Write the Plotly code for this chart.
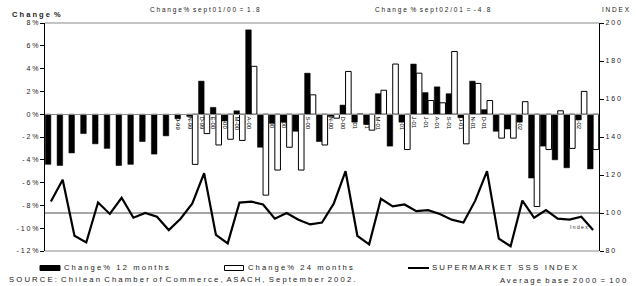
import plotly.graph_objects as go

# ---------------- data ----------------
months = ["N-98", "D-98",
          "E-99", "F-99", "M-99", "A-99", "M-99", "J-99", "J-99", "A-99", "S-99", "O-99", "N-99", "D-99",
          "E-00", "F-00", "M-00", "A-00", "M-00", "J-00", "J-00", "A-00", "S-00", "O-00", "N-00", "D-00",
          "E-01", "F-01", "M-01", "A-01", "M-01", "J-01", "J-01", "A-01", "S-01", "O-01", "N-01", "D-01",
          "E-02", "F-02", "M-02", "A-02", "M-02", "J-02", "J-02", "A-02", "S-02"]

change12 = [-4.4, -4.5, -3.4, -1.7, -2.6, -3.0, -4.5, -4.4, -2.4, -3.5, -1.9, -0.4, -0.2, 2.9,
            0.6, -0.6, 0.3, 7.4, -2.9, -0.8, -0.7, -1.5, 3.6, -2.4, -0.2, 0.8,
            -0.7, -0.9, 1.8, -2.8, -0.7, 4.4, 1.9, 2.4, 1.8, -0.3, 2.9, 0.4,
            -1.5, -1.3, -0.7, -5.6, -2.8, -4.0, -4.7, -0.5, -4.8]

change24 = [None, None, None, None, None, None, None, None, None, None, None, None, -4.4, -1.7,
            -2.7, -2.2, -2.3, 4.2, -7.1, -4.9, -2.9, -4.9, 1.7, -2.7, -0.35, 3.75,
            0.0, -1.4, 2.1, 4.4, -3.1, 3.6, 1.2, 1.0, 5.5, -2.6, 2.7, 1.2,
            -2.1, -2.1, 1.1, -8.1, -3.1, 0.3, -3.0, 2.0, -3.1]

sss_index = [106, 117.5, 88, 84.5, 105.5, 99.5, 108, 97.5, 100, 98, 91, 97, 105, 121,
             88.5, 84, 105.5, 106, 104.5, 97, 100, 96.5, 94, 95, 105, 122,
             88, 83.5, 107.5, 103.5, 104.5, 101, 101.5, 99.5, 96.5, 95, 106.5, 122,
             86.5, 82.5, 106.5, 97.5, 101.5, 97, 96.5, 98, 91]

left_ticks = [8, 6, 4, 2, 0, -2, -4, -6, -8, -10, -12]
left_tick_labels = ["8 %", "6 %", "4 %", "2 %", "0 %", "- 2 %", "- 4 %", "- 6 %", "- 8 %", "- 1 0 %", "- 1 2 %"]
right_ticks = [200, 180, 160, 140, 120, 100, 80]
right_tick_labels = ["2 0 0", "1 8 0", "1 6 0", "1 4 0", "1 2 0", "1 0 0", "8 0"]
base_level = 100

# ---------------- layout helpers ----------------
L, R, T, B = 45, 599, 23, 251
W, H = 636, 286


def px(x):
    return (x - L) / (R - L)


def py(y):
    return (B - y) / (B - T)


TXT = "#1a1a1a"
FONT = "Liberation Sans, Arial, sans-serif"
xs = list(range(len(months)))
LABEL_SHIFT = -0.22  # category labels sit slightly left of the group centre

fig = go.Figure()
fig.add_trace(go.Bar(x=xs, y=change12, name="Change% 12 months",
                     marker=dict(color="black", line=dict(color="black", width=0.5)),
                     yaxis="y", showlegend=False))
fig.add_trace(go.Bar(x=xs, y=change24, name="Change% 24 months",
                     marker=dict(color="white", line=dict(color="black", width=1)),
                     yaxis="y", showlegend=False))
fig.add_trace(go.Scatter(x=xs, y=sss_index, name="SUPERMARKET SSS INDEX", mode="lines",
                         line=dict(color="black", width=2.2), yaxis="y2", showlegend=False))

shapes = [
    # frame top / bottom
    dict(type="line", xref="paper", yref="paper", x0=0, x1=1, y0=1, y1=1,
         line=dict(color="#8a8a8a", width=1.2)),
    dict(type="line", xref="paper", yref="paper", x0=0, x1=1, y0=0, y1=0,
         line=dict(color="#8a8a8a", width=1.2)),
    # base 100 line
    dict(type="line", xref="paper", yref="y2", x0=0, x1=1, y0=base_level, y1=base_level,
         line=dict(color="#8a8a8a", width=1.5), layer="below"),
    # legend symbols
    dict(type="rect", xref="paper", yref="paper", x0=px(40), x1=px(60), y0=py(270.5), y1=py(265.5),
         fillcolor="black", line=dict(color="black", width=1)),
    dict(type="rect", xref="paper", yref="paper", x0=px(224.5), x1=px(243.5), y0=py(270.5), y1=py(265.5),
         fillcolor="white", line=dict(color="black", width=1)),
    dict(type="line", xref="paper", yref="paper", x0=px(408), x1=px(429), y0=py(268), y1=py(268),
         line=dict(color="black", width=2)),
]


def ann(text, x, y, xanchor="left", size=7, bold=False):
    return dict(text=("<b>%s</b>" % text) if bold else text, xref="paper", yref="paper",
                x=px(x), y=py(y), xanchor=xanchor, yanchor="middle", showarrow=False,
                font=dict(size=size, color=TXT, family=FONT))


annotations = [
    ann("C h a n g e  %", 10, 14.5, size=7.5, bold=True),
    ann("C h a n g e %  s e p t 0 1 / 0 0  =  1 . 8", 205, 10, xanchor="center", size=6.5),
    ann("C h a n g e  %  s e p t 0 2 / 0 1  =  - 4 . 8", 433, 10, xanchor="center", size=6.5),
    ann("I N D E X", 616, 10, xanchor="center", size=6.5),
    ann("I n d e x", 579, 227, xanchor="center", size=5),
    ann("C h a n g e %   1 2   m o n t h s", 61.5, 267.5, size=7.6),
    ann("C h a n g e %   2 4   m o n t h s", 246, 267.5, size=7.6),
    ann("S U P E R M A R K E T   S S S   I N D E X", 430, 267.5, size=7.8),
    ann("S O U R C E :  C h i l e a n  C h a m b e r  o f  C o m m e r c e ,  A S A C H ,  S e p t e m b e r  2 0 0 2 .",
        7, 279.5, size=7.7),
    ann("A v e r a g e  b a s e  2 0 0 0  =  1 0 0", 628, 280, xanchor="right", size=7.7),
]

fig.update_layout(
    width=W, height=H,
    margin=dict(l=L, r=W - R, t=T, b=H - B, pad=0),
    paper_bgcolor="white", plot_bgcolor="white",
    barmode="group", bargap=0.05, bargroupgap=0,
    font=dict(family=FONT, size=7, color=TXT),
    xaxis=dict(range=[-0.5, len(months) - 0.5], tickmode="array",
               tickvals=[i + LABEL_SHIFT for i in xs], ticktext=months,
               tickangle=90, anchor="free", position=py(114.2), showline=True,
               linecolor="#8a8a8a", linewidth=1, ticks="", showgrid=False, zeroline=False,
               tickfont=dict(size=6, color="black"), layer="above traces"),
    yaxis=dict(range=[-12, 8], tickmode="array", tickvals=left_ticks, ticktext=left_tick_labels,
               ticks="outside", ticklen=4, tickcolor="black", showline=True, linecolor="black",
               linewidth=1, showgrid=False, zeroline=False, tickfont=dict(size=7, color=TXT)),
    yaxis2=dict(range=[80, 200], overlaying="y", side="right", tickmode="array",
                tickvals=right_ticks, ticktext=right_tick_labels, ticks="outside", ticklen=4,
                tickcolor="black", showline=True, linecolor="black", linewidth=1,
                showgrid=False, zeroline=False, tickfont=dict(size=7, color=TXT)),
    shapes=shapes,
    annotations=annotations,
)

fig.write_html("out.html")
